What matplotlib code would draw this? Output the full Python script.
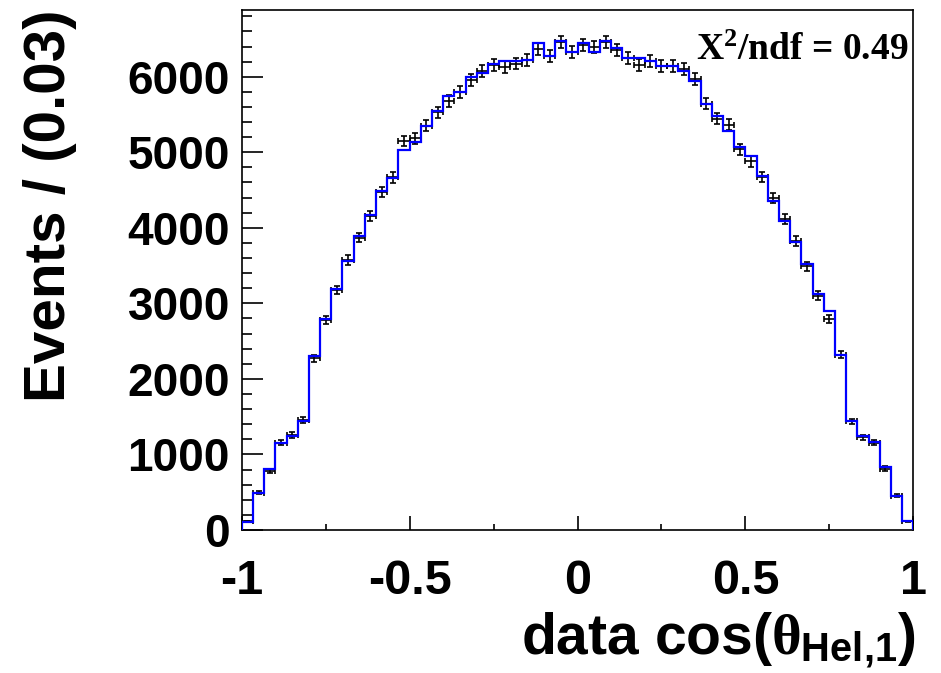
import numpy as np
import matplotlib
matplotlib.use("Agg")
import matplotlib.pyplot as plt
from matplotlib.ticker import MultipleLocator

# 60 bins of width 1/30 between -1 and 1
x_lo = -1.0
x_hi = 1.0
n_bins = 60

data_counts = [113, 492, 785, 1154, 1258, 1456, 2274, 2785, 3177, 3574,
               3868, 4156, 4477, 4667, 5149, 5187, 5352, 5527, 5678, 5800,
               5953, 6080, 6151, 6132, 6175, 6227, 6364, 6269, 6458, 6321,
               6425, 6388, 6458, 6354, 6246, 6151, 6203, 6142, 6140, 6104,
               5967, 5645, 5442, 5362, 5040, 4879, 4676, 4392, 4113, 3825,
               3494, 3102, 2799, 2321, 1437, 1225, 1154, 813, 454, 113]

fit_counts = [104, 492, 813, 1154, 1248, 1447, 2298, 2794, 3196, 3555,
              3891, 4165, 4482, 4662, 5031, 5135, 5352, 5551, 5740, 5800,
              6000, 6047, 6165, 6213, 6203, 6227, 6449, 6274, 6473, 6321,
              6449, 6331, 6473, 6378, 6250, 6250, 6203, 6142, 6142, 6080,
              5938, 5645, 5480, 5277, 5068, 4950, 4685, 4359, 4085, 3811,
              3527, 3130, 2894, 2321, 1437, 1239, 1168, 832, 454, 113]

x_ticks = [-1, -0.5, 0, 0.5, 1]
x_ticklabels = ["-1", "-0.5", "0", "0.5", "1"]
y_max = 6883
chi2_text = r"X$^{\mathbf{2}}$/ndf = 0.49"

plt.rcParams["font.family"] = ["Liberation Sans", "DejaVu Sans"]
plt.rcParams["font.weight"] = "bold"
plt.rcParams["mathtext.fontset"] = "custom"
plt.rcParams["mathtext.rm"] = "Liberation Sans:bold"
plt.rcParams["mathtext.it"] = "Liberation Serif"
plt.rcParams["mathtext.bf"] = "Liberation Serif:bold"

edges = np.linspace(x_lo, x_hi, n_bins + 1)
centers = 0.5 * (edges[:-1] + edges[1:])
half_w = 0.5 * (edges[1] - edges[0])
counts = np.array(data_counts, dtype=float)

fig = plt.figure(figsize=(9.41, 6.73), dpi=100)
ax = fig.add_axes([0.2569, 0.2125, 0.7137, 0.7726])

ax.errorbar(centers, counts, xerr=half_w, yerr=np.sqrt(counts), fmt="none",
            ecolor="black", elinewidth=1.2, capsize=2.5, capthick=1.2, zorder=2)
ax.stairs(fit_counts, edges, color="blue", linewidth=1.6, zorder=3)

ax.set_xlim(x_lo, x_hi)
ax.set_ylim(0, y_max)
ax.set_xticks(x_ticks)
ax.set_xticklabels(x_ticklabels)
ax.xaxis.set_minor_locator(MultipleLocator(0.25))
ax.yaxis.set_major_locator(MultipleLocator(1000))
ax.yaxis.set_minor_locator(MultipleLocator(200))

ax.tick_params(axis="both", which="both", direction="in", top=False, right=False,
               width=1.2, color="black")
ax.tick_params(axis="y", which="major", length=15, labelsize=33, pad=8.5)
ax.tick_params(axis="y", which="minor", length=7.5)
ax.tick_params(axis="x", which="major", length=10, labelsize=35, pad=21)
ax.tick_params(axis="x", which="minor", length=4)
for s in ax.spines.values():
    s.set_linewidth(1.2)

# axis titles, ROOT style: right / top aligned
fig.text(916 / 941, 1 - 655 / 673, r"data cos($\theta_{\mathrm{Hel{,}1}}$)",
         ha="right", va="baseline", fontsize=41, fontweight="bold")
fig.text(50 / 941, 1 - 10 / 673, "Events / (0.03)", rotation=90,
         ha="center", va="top", fontsize=42, fontweight="bold")

ax.text(0.993, 0.904, chi2_text, transform=ax.transAxes, ha="right",
        va="baseline", fontsize=27, family="Liberation Serif", fontweight="bold")

fig.savefig("out.png", dpi=100)
